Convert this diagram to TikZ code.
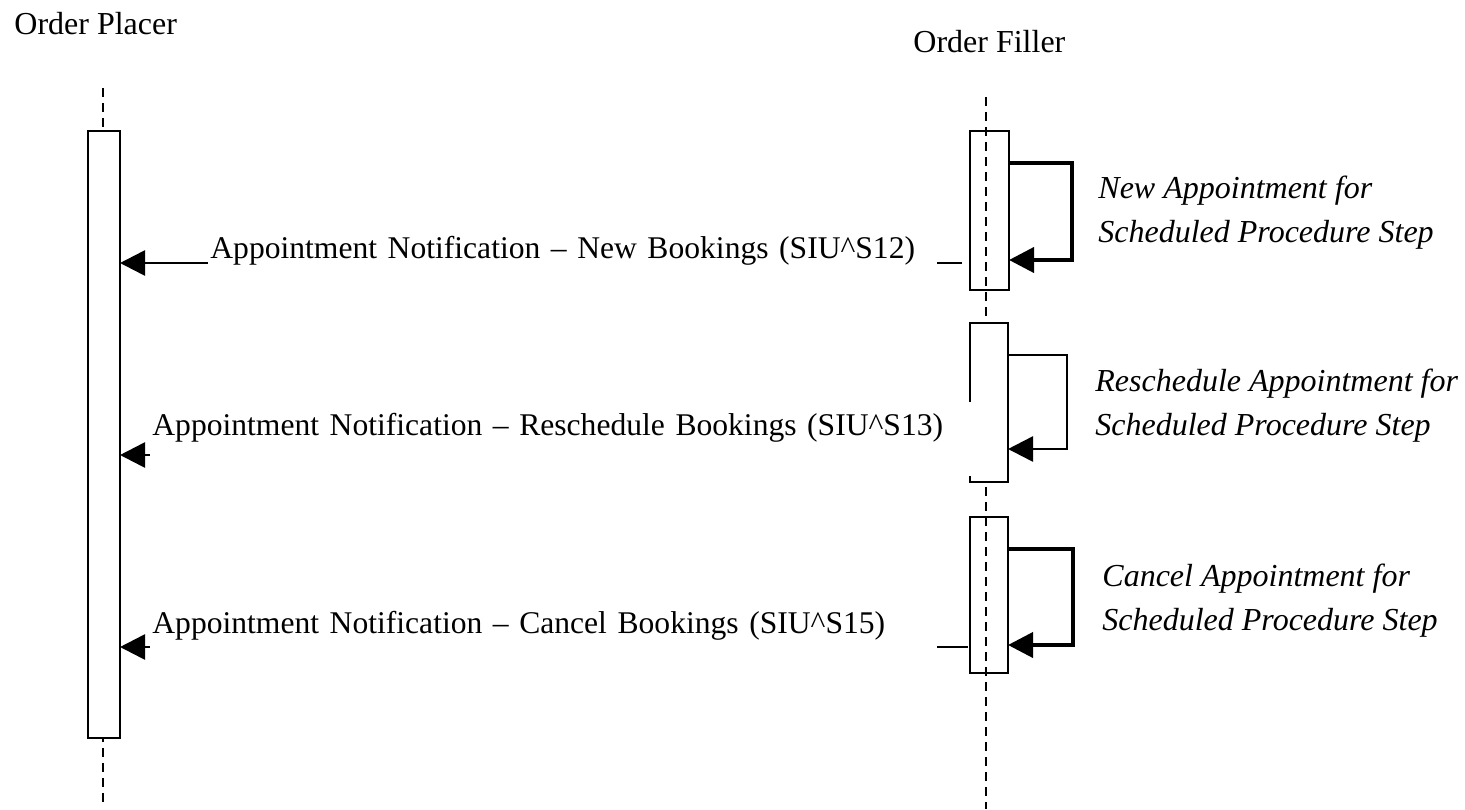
\documentclass[tikz,border=0pt]{standalone}
\usepackage{fontspec}
\setmainfont{Liberation Serif}
\usetikzlibrary{arrows.meta}
\usetikzlibrary{calc}
\usetikzlibrary{positioning}

\tikzset{
  lifeline/.style={line width=0.9pt, dash pattern=on 4.5pt off 3pt},
  actbox/.style={draw, line width=1pt, rectangle, inner sep=0pt, outer sep=0pt},
  msg/.style={line width=1.3pt, -{Triangle[length=12.5pt,width=12.5pt]}},
  selfcall/.style={line width=2pt, -{Triangle[length=12.5pt,width=12.5pt]}},
  msglabel/.style={fill=white, inner xsep=1pt, inner ysep=0pt, align=left, anchor=base west, font=\fontsize{15.8}{19}\selectfont},
  steplabel/.style={inner sep=0pt, align=left, anchor=base west, font=\fontsize{16}{22}\selectfont\itshape}
}

\begin{document}
\begin{tikzpicture}[x=0.5pt,y=0.5pt,yscale=-1,xscale=1]
\useasboundingbox (0,0) rectangle (1465,809);

% Text Node
\node[anchor=base west, inner sep=0pt, font=\fontsize{16}{19}\selectfont] (placer) at (14,34) {Order Placer};
% Text Node
\node[anchor=base west, inner sep=0pt, font=\fontsize{16}{19}\selectfont] (filler) at (913,52) {Order Filler};

%Lifelines
\coordinate (optop) at (103,88);
\coordinate (opbot) at (103,802);
\coordinate (oftop) at (986,97);
\coordinate (ofbot) at (986,809);
\draw[lifeline] (optop) -- (opbot);
\draw[lifeline] (oftop) -- (ofbot);

%Activation boxes
\node[actbox, fill=white, minimum width=16pt, minimum height=303.5pt] (pbox) at (104,434.5) {};
\node[actbox, minimum width=19.5pt, minimum height=79.5pt] (fnew) at (989.5,210.5) {};
\node[actbox, fill=white, minimum width=19pt, minimum height=79.5pt] (fresched) at (989,402.5) {};
\node[actbox, minimum width=19pt, minimum height=78pt] (fcancel) at (989,595) {};

%Self calls
\draw[selfcall] ($(fnew.north east)+(0,32)$) -- ++(63,0) |- ($(fnew.north east)+(0,129)$);
\draw[selfcall, line width=1.3pt] ($(fresched.north east)+(0,32)$) -- ++(59,0) |- ($(fresched.north east)+(0,126)$);
\draw[selfcall] ($(fcancel.north east)+(0,32)$) -- ++(65,0) |- ($(fcancel.north east)+(0,128)$);

%Messages
\coordinate (m1) at ($(fnew.north west)+(-8,132)$);
\coordinate (m2) at ($(fresched.north west)+(0,132)$);
\coordinate (m3) at ($(fcancel.north west)+(-2,130)$);
\draw[msg] (m1) -- (m1 -| pbox.east);
\draw[msg] (m2) -- (m2 -| pbox.east);
\draw[msg] (m3) -- (m3 -| pbox.east);

% Text Node
\node[msglabel, text width=362.5pt, text depth=5pt] (newmsg) at (208,258) {Appointment Notification -- New Bookings (SIU\^{}S12)};
% Text Node
\node[msglabel, text width=410.5pt, text height=16.5pt, text depth=20.5pt] (reschedmsg) at (150,435) {Appointment Notification -- Reschedule Bookings (SIU\^{}S13)};
% Text Node
\node[msglabel, text width=391.5pt, text depth=9pt] (cancelmsg) at (150,633) {Appointment Notification -- Cancel Bookings (SIU\^{}S15)};

% Text Node
\node[steplabel] (newstep) at (1098,242) {New Appointment for\\Scheduled Procedure Step};
% Text Node
\node[steplabel] (reschedstep) at (1095,435) {Reschedule Appointment for\\Scheduled Procedure Step};
% Text Node
\node[steplabel] (cancelstep) at (1102,630) {Cancel Appointment for\\Scheduled Procedure Step};

\end{tikzpicture}
\end{document}
